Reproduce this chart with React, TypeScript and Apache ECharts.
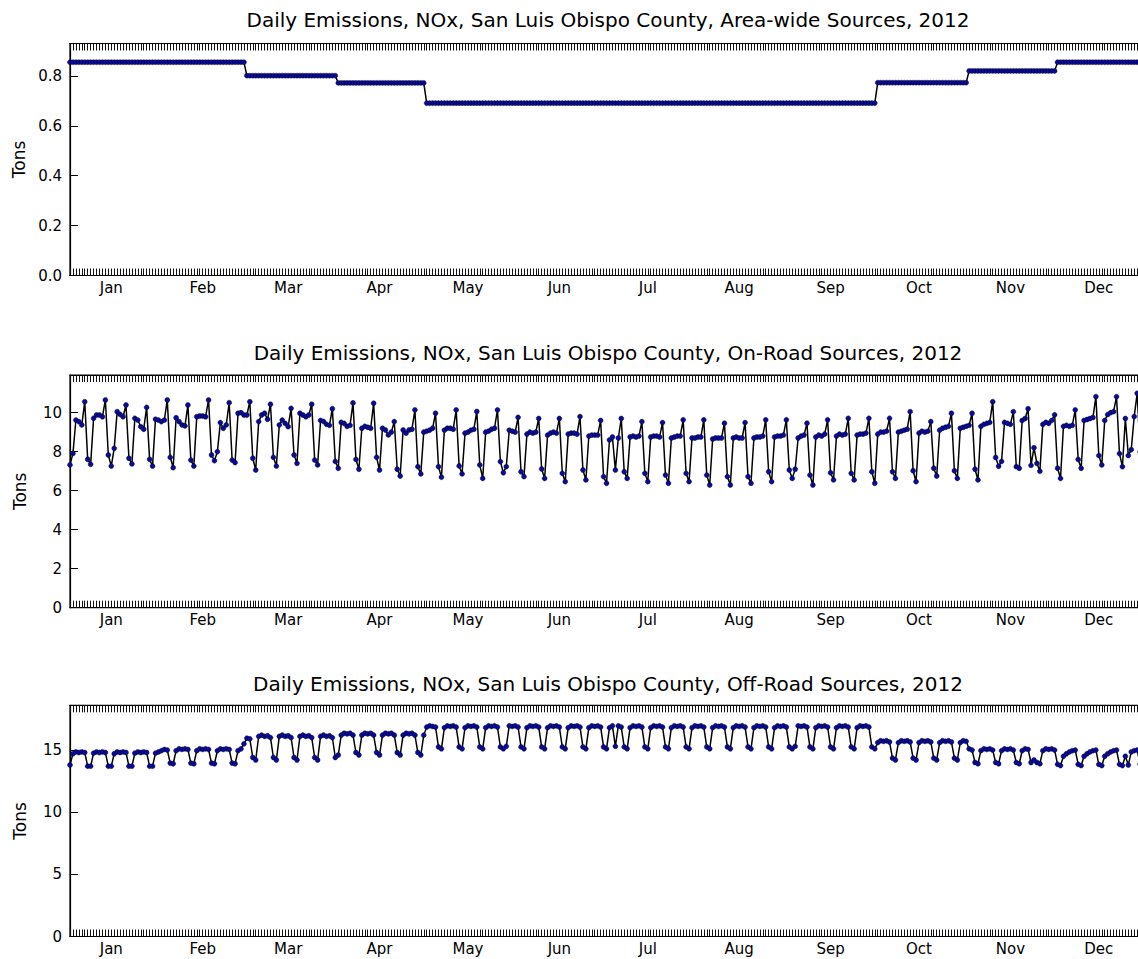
import React, { useEffect, useRef } from "react";
import * as echarts from "echarts";

// ---------- data ----------
const monthNames = ["Jan", "Feb", "Mar", "Apr", "May", "Jun", "Jul", "Aug", "Sep", "Oct", "Nov", "Dec"];
const daysInMonth = [31, 29, 31, 30, 31, 30, 31, 31, 30, 31, 30, 31];

const titles = [
  "Daily Emissions, NOx, San Luis Obispo County, Area-wide Sources, 2012",
  "Daily Emissions, NOx, San Luis Obispo County, On-Road Sources, 2012",
  "Daily Emissions, NOx, San Luis Obispo County, Off-Road Sources, 2012",
];

// Area-wide sources: one level per month (tons/day)
const areaWideMonthly = [0.855, 0.855, 0.801, 0.772, 0.691, 0.691, 0.691, 0.691, 0.691, 0.773, 0.82, 0.855];

// On-road sources, daily, rows = weeks Sun..Sat (Jan 1 2012 is a Sunday)
const onRoad = [
  7.32, 7.91, 9.62, 9.54, 9.37, 10.56, 7.61,
  7.35, 9.71, 9.88, 9.88, 9.79, 10.65, 7.83,
  7.26, 8.17, 10.05, 9.91, 9.79, 10.39, 7.66,
  7.37, 9.71, 9.62, 9.28, 9.15, 10.27, 7.61,
  7.26, 9.66, 9.62, 9.54, 9.62, 10.65, 7.71,
  7.18, 9.74, 9.54, 9.37, 9.32, 10.39, 7.57,
  7.26, 9.79, 9.83, 9.83, 9.79, 10.65, 7.83,
  7.54, 8.0, 9.49, 9.2, 9.37, 10.51, 7.57,
  7.44, 9.97, 10.0, 9.88, 9.88, 10.56, 7.66,
  7.06, 9.54, 9.88, 9.97, 9.66, 10.43, 7.71,
  7.26, 9.37, 9.62, 9.45, 9.28, 10.22, 7.83,
  7.4, 9.97, 9.88, 9.79, 9.88, 10.43, 7.57,
  7.32, 9.6, 9.55, 9.4, 9.35, 10.2, 7.5,
  7.15, 9.5, 9.45, 9.3, 9.35, 10.5, 7.6,
  7.1, 9.2, 9.3, 9.25, 9.2, 10.48, 7.71,
  7.06, 9.2, 9.11, 8.86, 9.0, 9.54, 7.1,
  6.75, 9.11, 8.95, 9.11, 9.15, 10.14, 7.23,
  6.86, 9.0, 9.05, 9.1, 9.2, 9.97, 7.23,
  6.69, 9.1, 9.2, 9.2, 9.15, 10.14, 7.27,
  6.86, 8.95, 9.0, 9.1, 9.15, 10.06, 7.32,
  6.63, 9.0, 9.05, 9.15, 9.2, 10.14, 7.49,
  6.92, 7.23, 9.1, 9.05, 9.0, 9.76, 6.97,
  6.72, 8.9, 9.0, 8.95, 9.0, 9.7, 7.11,
  6.63, 8.85, 8.95, 9.0, 8.95, 9.7, 6.89,
  6.46, 8.9, 8.95, 8.95, 8.9, 9.8, 7.06,
  6.55, 8.8, 8.85, 8.85, 8.85, 9.6, 6.72,
  6.38, 8.6, 8.75, 7.06, 8.7, 9.7, 6.97,
  6.63, 8.75, 8.8, 8.75, 8.8, 9.54, 6.89,
  6.46, 8.75, 8.8, 8.8, 8.75, 9.49, 6.8,
  6.38, 8.7, 8.75, 8.8, 8.8, 9.63, 6.89,
  6.46, 8.7, 8.7, 8.75, 8.75, 9.63, 6.8,
  6.29, 8.65, 8.7, 8.7, 8.7, 9.46, 6.72,
  6.29, 8.7, 8.75, 8.7, 8.7, 9.49, 6.72,
  6.38, 8.7, 8.75, 8.75, 8.8, 9.63, 6.97,
  6.46, 8.75, 8.8, 8.8, 8.85, 9.63, 7.06,
  6.63, 7.1, 8.7, 8.8, 8.85, 9.46, 6.8,
  6.29, 8.75, 8.85, 8.8, 8.9, 9.63, 6.92,
  6.55, 8.8, 8.9, 8.85, 8.9, 9.71, 6.89,
  6.55, 8.85, 8.9, 8.9, 8.95, 9.71, 6.97,
  6.38, 8.9, 9.0, 9.0, 9.05, 9.71, 6.97,
  6.63, 9.0, 9.05, 9.1, 9.15, 10.05, 7.02,
  6.46, 8.95, 9.05, 9.0, 9.05, 9.54, 7.15,
  6.75, 9.1, 9.2, 9.25, 9.3, 9.97, 7.02,
  6.63, 9.2, 9.25, 9.3, 9.35, 9.97, 7.1,
  6.55, 9.3, 9.4, 9.45, 9.5, 10.56, 7.7,
  7.25, 7.5, 9.5, 9.45, 9.4, 10.05, 7.23,
  7.15, 9.6, 9.7, 10.2, 7.3, 8.2, 7.4,
  7.0, 9.4, 9.5, 9.45, 9.6, 9.89, 7.15,
  6.63, 9.3, 9.35, 9.3, 9.35, 10.14, 7.6,
  7.15, 9.6, 9.65, 9.7, 9.75, 10.82, 7.8,
  7.32, 9.6, 9.9, 10.0, 10.05, 10.82, 7.9,
  7.23, 9.7, 7.8, 8.1, 9.8, 10.99, 8.0,
  7.5, 8.5,
];

// Off-road sources, daily, rows = weeks Sun..Sat
const offRoad = [
  13.8, 14.7, 14.85, 14.8, 14.85, 14.8, 13.7,
  13.7, 14.75, 14.85, 14.8, 14.85, 14.8, 13.7,
  13.7, 14.7, 14.85, 14.8, 14.85, 14.8, 13.7,
  13.7, 14.75, 14.85, 14.8, 14.85, 14.8, 13.7,
  13.7, 14.75, 14.85, 14.95, 15.05, 15.0, 13.95,
  13.9, 14.95, 15.1, 15.05, 15.1, 15.05, 13.95,
  13.9, 14.95, 15.1, 15.05, 15.1, 15.05, 13.95,
  13.9, 14.95, 15.1, 15.05, 15.1, 15.05, 13.95,
  13.9, 14.95, 15.1, 15.5, 15.95, 15.9, 14.4,
  14.2, 16.1, 16.2, 16.1, 16.15, 16.0, 14.4,
  14.2, 16.1, 16.2, 16.1, 16.15, 16.0, 14.4,
  14.2, 16.1, 16.2, 16.1, 16.15, 16.0, 14.4,
  14.2, 16.1, 16.2, 16.1, 16.15, 16.0, 14.4,
  14.6, 16.2, 16.35, 16.3, 16.35, 16.2, 14.8,
  14.6, 16.2, 16.35, 16.3, 16.35, 16.2, 14.8,
  14.6, 16.2, 16.35, 16.3, 16.35, 16.2, 14.8,
  14.6, 16.2, 16.35, 16.3, 16.35, 16.2, 14.8,
  14.6, 16.2, 16.85, 16.95, 16.9, 16.85, 15.25,
  15.1, 16.8, 16.95, 16.9, 16.95, 16.85, 15.25,
  15.1, 16.8, 16.95, 16.9, 16.95, 16.85, 15.25,
  15.1, 16.8, 16.95, 16.9, 16.95, 16.85, 15.25,
  15.1, 15.3, 16.95, 16.9, 16.95, 16.85, 15.25,
  15.1, 16.8, 16.95, 16.9, 16.95, 16.85, 15.25,
  15.1, 16.8, 16.95, 16.9, 16.95, 16.85, 15.25,
  15.1, 16.8, 16.95, 16.9, 16.95, 16.85, 15.25,
  15.1, 16.8, 16.95, 16.9, 16.95, 16.85, 15.25,
  15.1, 16.8, 16.95, 15.3, 16.95, 16.85, 15.25,
  15.1, 16.8, 16.95, 16.9, 16.95, 16.85, 15.25,
  15.1, 16.8, 16.95, 16.9, 16.95, 16.85, 15.25,
  15.1, 16.8, 16.95, 16.9, 16.95, 16.85, 15.25,
  15.1, 16.8, 16.95, 16.9, 16.95, 16.85, 15.25,
  15.1, 16.8, 16.95, 16.9, 16.95, 16.85, 15.25,
  15.1, 16.8, 16.95, 16.9, 16.95, 16.85, 15.25,
  15.1, 16.8, 16.95, 16.9, 16.95, 16.85, 15.25,
  15.1, 16.8, 16.95, 16.9, 16.95, 16.85, 15.25,
  15.1, 15.3, 16.95, 16.9, 16.95, 16.85, 15.25,
  15.1, 16.8, 16.95, 16.9, 16.95, 16.85, 15.25,
  15.1, 16.8, 16.95, 16.9, 16.95, 16.85, 15.25,
  15.1, 16.8, 16.95, 16.9, 16.95, 16.85, 15.25,
  15.1, 15.6, 15.75, 15.7, 15.75, 15.65, 14.35,
  14.2, 15.6, 15.75, 15.7, 15.75, 15.65, 14.35,
  14.2, 15.6, 15.75, 15.7, 15.75, 15.65, 14.35,
  14.2, 15.6, 15.75, 15.7, 15.75, 15.65, 14.35,
  14.2, 15.6, 15.75, 15.7, 15.1, 15.0, 14.0,
  13.9, 14.95, 15.1, 15.05, 15.1, 15.0, 14.0,
  13.9, 14.95, 15.1, 15.05, 15.1, 15.0, 14.0,
  13.9, 14.95, 15.1, 15.05, 14.0, 14.2, 14.0,
  13.9, 14.95, 15.1, 15.05, 15.1, 15.0, 13.85,
  13.75, 14.5, 14.7, 14.85, 14.95, 15.0, 13.85,
  13.75, 14.5, 14.7, 14.85, 14.95, 15.0, 13.85,
  13.75, 14.5, 14.7, 14.85, 14.95, 15.0, 13.85,
  13.75, 14.5, 13.8, 14.85, 14.95, 15.0, 13.85,
  13.75, 14.5,
];

const yMax = [0.93, 11.93, 18.6];
const yInterval = [0.2, 2, 5];
const yDecimals = [1, 0, 0];

// ---------- helpers ----------
const dayLabels: string[] = [];
const dayOfMonth: number[] = [];
const areaWide: number[] = [];
daysInMonth.forEach((n, m) => {
  for (let d = 1; d <= n; d++) {
    dayLabels.push(`2012-${m + 1}-${d}`);
    dayOfMonth.push(d);
    areaWide.push(areaWideMonthly[m]);
  }
});
const monthOfIndex = (i: number) => {
  let acc = 0;
  for (let m = 0; m < 12; m++) {
    acc += daysInMonth[m];
    if (i < acc) return m;
  }
  return 11;
};

const seriesData = [areaWide, onRoad, offRoad];

const FONT = "DejaVu Sans";
const GRID_LEFT = 70;
const GRID_W = 1076;
const grids = [
  { top: 43.5, height: 232 },
  { top: 375, height: 232.7 },
  { top: 705.3, height: 231.2 },
];
const titleY = [20, 353, 684];

export default function App() {
  const ref = useRef<HTMLDivElement>(null);
  useEffect(() => {
    if (!ref.current) return;
    const chart = echarts.init(ref.current, undefined, { renderer: "svg" });
    const xAxes: any[] = [];
    const yAxes: any[] = [];
    const series: any[] = [];
    grids.forEach((g, i) => {
      xAxes.push({
        type: "category",
        gridIndex: i,
        data: dayLabels,
        boundaryGap: false,
        position: "bottom",
        axisLine: { show: true, lineStyle: { color: "#000", width: 1.2 } },
        axisTick: { show: true, inside: true, length: 7, interval: 0, lineStyle: { color: "#111", width: 1 } },
        axisLabel: {
          show: true,
          interval: (idx: number) => dayOfMonth[idx] === 15,
          formatter: (_v: string, idx: number) => monthNames[monthOfIndex(idx)],
          color: "#000",
          fontFamily: FONT,
          fontSize: 15,
          margin: 5,
        },
        splitLine: { show: false },
      });
      xAxes.push({
        type: "category",
        gridIndex: i,
        data: dayLabels,
        boundaryGap: false,
        position: "top",
        axisLine: { show: true, lineStyle: { color: "#000", width: 1.2 } },
        axisTick: { show: true, inside: true, length: 7, interval: 0, lineStyle: { color: "#111", width: 1 } },
        axisLabel: { show: false },
        splitLine: { show: false },
      });
      yAxes.push({
        type: "value",
        gridIndex: i,
        min: 0,
        max: yMax[i],
        interval: yInterval[i],
        axisLine: { show: true, lineStyle: { color: "#000", width: 1.2 } },
        axisTick: { show: true, inside: true, length: 8, lineStyle: { color: "#000", width: 1 } },
        axisLabel: {
          color: "#000",
          fontFamily: FONT,
          fontSize: 15,
          margin: 8,
          showMaxLabel: false,
          formatter: (v: number) => v.toFixed(yDecimals[i]),
        },
        splitLine: { show: false },
        name: "Tons",
        nameLocation: "middle",
        nameGap: 42,
        nameRotate: 90,
        nameTextStyle: { color: "#000", fontFamily: FONT, fontSize: 17 },
      });
      series.push({
        type: "line",
        xAxisIndex: i * 2,
        yAxisIndex: i,
        data: seriesData[i],
        symbol: "circle",
        symbolSize: 5,
        showSymbol: true,
        showAllSymbol: true,
        lineStyle: { color: "#000", width: 1.5 },
        itemStyle: { color: "#0a0a9a", borderColor: "#000", borderWidth: 0.4 },
        silent: true,
      });
    });
    chart.setOption({
      animation: false,
      backgroundColor: "#fff",
      grid: grids.map((g) => ({
        left: GRID_LEFT,
        width: GRID_W,
        top: g.top,
        height: g.height,
        show: true,
        borderColor: "#000",
        borderWidth: 1.2,
        backgroundColor: "transparent",
      })),
      xAxis: xAxes,
      yAxis: yAxes,
      series,
      graphic: titles.map((t, i) => ({
        type: "text",
        x: GRID_LEFT + GRID_W / 2,
        y: titleY[i],
        style: {
          text: t,
          fill: "#000",
          font: `20px "${FONT}"`,
          align: "center",
          verticalAlign: "middle",
          textAlign: "center",
          textVerticalAlign: "middle",
        },
      })),
    });
    return () => chart.dispose();
  }, []);
  return (
    <div style={{ position: "absolute", left: 0, top: 0, width: 1138, height: 959, overflow: "hidden", background: "#fff" }}>
      <div ref={ref} style={{ width: 1160, height: 959 }} />
    </div>
  );
}
